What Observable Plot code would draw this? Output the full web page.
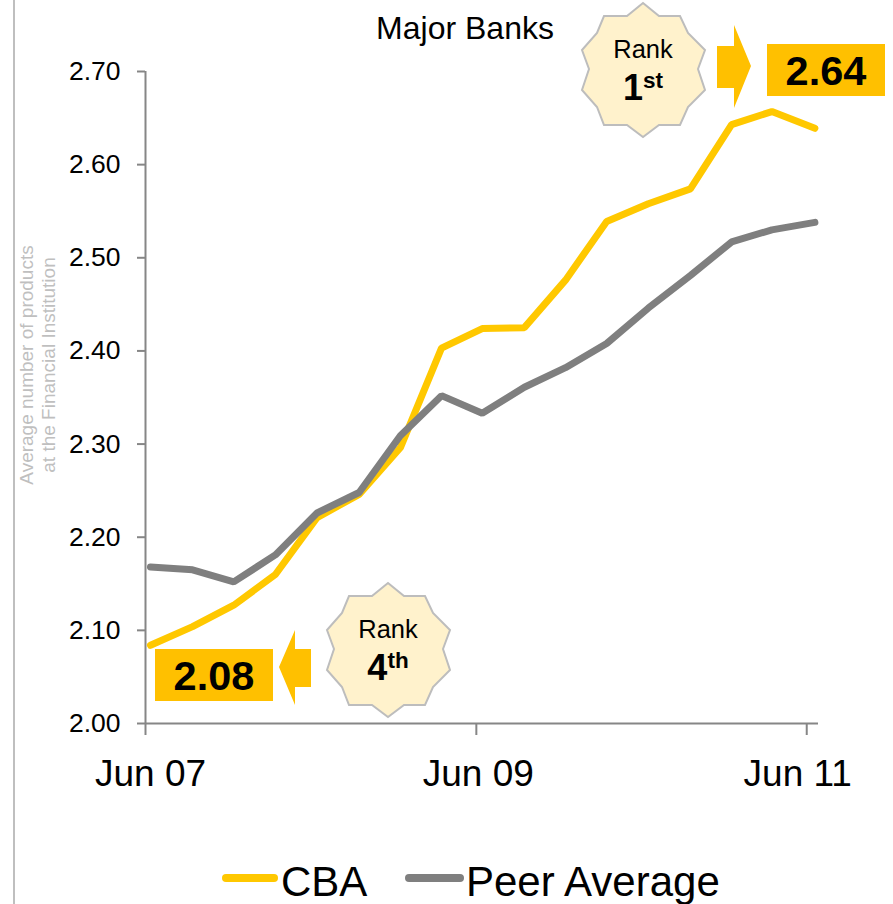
<!DOCTYPE html>
<html>
<head>
<meta charset="utf-8">
<script src="https://cdn.jsdelivr.net/npm/d3@7"></script>
<script src="https://cdn.jsdelivr.net/npm/@observablehq/plot@0.6"></script>
<style>
  html, body { margin: 0; padding: 0; background: #fff; }
  body { width: 893px; height: 904px; position: relative; overflow: hidden; font-family: "Liberation Sans", Arial, sans-serif; }
  #rule { position: absolute; left: 13px; top: 0; width: 2px; height: 904px; background: #bfbfbf; }
  #title { position: absolute; left: 265px; width: 400px; top: 9px; text-align: center; font-size: 32px; color: #000; line-height: 38px; }
  #chart { position: absolute; left: 0; top: 0; }
  #chart svg { overflow: visible; display: block; }
  #legend { position: absolute; left: 0; top: 850px; width: 893px; height: 54px; }
  .sw { position: absolute; height: 8px; border-radius: 4px; top: 24px; }
  .lb { position: absolute; top: 8px; font-size: 42px; line-height: 48px; color: #000; white-space: nowrap; }
</style>
</head>
<body>
<div id="rule"></div>
<div id="chart"></div>
<div id="title">Major Banks</div>
<div id="legend">
  <div class="sw" style="left:222px;width:56px;background:#FFC800"></div>
  <div class="lb" style="left:281px">CBA</div>
  <div class="sw" style="left:405px;width:59px;background:#7F7F7F"></div>
  <div class="lb" style="left:466px">Peer Average</div>
</div>
<script>
const dates = ["2007-06-12","2007-09-13","2007-12-13","2008-03-14","2008-06-14","2008-09-15","2008-12-15","2009-03-16","2009-06-14","2009-09-15","2009-12-15","2010-03-16","2010-06-16","2010-09-17","2010-12-17","2011-03-16","2011-06-19"];
const cba  = [2.084,2.104,2.127,2.160,2.221,2.246,2.296,2.403,2.424,2.425,2.476,2.539,2.558,2.574,2.643,2.657,2.639];
const peer = [2.168,2.165,2.152,2.181,2.226,2.248,2.309,2.352,2.333,2.361,2.382,2.408,2.446,2.481,2.517,2.530,2.538];
const yTicks = [2.0,2.1,2.2,2.3,2.4,2.5,2.6,2.7];
const xTicks = ["2007-06-01","2009-06-01","2011-06-01"];
const xLabels = ["Jun 07","Jun 09","Jun 11"];
const xLabelShift = [5,2,-9];

const GOLD = "#FFC000", LINEGOLD = "#FFC800", GREY = "#7F7F7F", AXIS = "#868686";
const parse = d => new Date(d + "T00:00:00Z");
const rows = name => (d, i) => ({date: parse(d), value: name === "CBA" ? cba[i] : peer[i]});

// decorative callouts
const starShape = [[0,-67],[16,-54],[37,-54],[45,-37],[62,-20],[55,-1],[62,20],[45,37],[37,55],[16,55],[0,67],[-16,55],[-39,55],[-46,37],[-61,20],[-54,-1],[-61,-20],[-46,-37],[-39,-54],[-16,-54]];
function star(g, cx, cy, big, sup) {
  g.append("polygon").attr("points", starShape.map(p => [cx+p[0], cy+p[1]].join(",")).join(" "))
    .attr("fill","#FFF2CC").attr("stroke","#BDBDBD").attr("stroke-width",2);
  g.append("text").attr("x",cx).attr("y",cy-12).attr("text-anchor","middle").attr("font-size",25.5).attr("fill","#000").text("Rank");
  const t = g.append("text").attr("x",cx).attr("y",cy+30).attr("text-anchor","middle").attr("font-weight","bold").attr("fill","#000");
  t.append("tspan").attr("font-size",36).text(big);
  t.append("tspan").attr("font-size",22.5).attr("dy",-12).text(sup);
}
function box(g, x, y, label) {
  g.append("rect").attr("x",x).attr("y",y).attr("width",118).attr("height",52).attr("fill",GOLD);
  g.append("text").attr("x",x+59).attr("y",y+41).attr("text-anchor","middle").attr("font-size",41.5).attr("font-weight","bold").attr("fill","#000").text(label);
}
function callouts() {
  const g = d3.create("svg:g").attr("font-family","'Liberation Sans', Arial, sans-serif");
  star(g, 643, 70, "1", "st");
  star(g, 388, 650, "4", "th");
  box(g, 767, 44, "2.64");
  box(g, 155, 649, "2.08");
  g.append("polygon").attr("fill",GOLD).attr("points","717,46 734,46 734,25 751,66 734,108 734,88 717,88");
  g.append("polygon").attr("fill",GOLD).attr("points","311,649 295,649 295,630 279,667 295,705 295,687 311,687");
  const yl = g.append("text").attr("transform","translate(0,365) rotate(-90)").attr("text-anchor","middle").attr("fill","#BFBFBF").attr("font-size",19);
  yl.append("tspan").attr("x",0).attr("y",33).text("Average number of products");
  yl.append("tspan").attr("x",0).attr("y",55).text("at the Financial Institution");
  return g.node();
}

const chart = Plot.plot({
  width: 893, height: 850,
  marginLeft: 145, marginRight: 75, marginTop: 71, marginBottom: 127,
  style: {fontFamily: "'Liberation Sans', Arial, sans-serif", background: "transparent", overflow: "visible"},
  x: {type: "utc", domain: [parse("2007-06-01"), parse("2011-06-27")]},
  y: {domain: [2, 2.7]},
  marks: [
    Plot.ruleY([2], {stroke: AXIS, strokeWidth: 2}),
    Plot.ruleX([parse(xTicks[0])], {y1: 2, y2: 2.7, stroke: AXIS, strokeWidth: 2}),
    Plot.axisY({ticks: yTicks, tickFormat: d3.format(".2f"), tickSize: 8, tickPadding: 17, stroke: AXIS, fill: "#000", strokeWidth: 2, fontSize: 26.5, label: null}),
    Plot.axisX({ticks: xTicks.map(parse), tickSize: 12, stroke: AXIS, strokeWidth: 2, tickFormat: () => "", label: null}),
    ...xLabels.map((label, i) => Plot.text([label], {x: [parse(xTicks[i])], y: [2], dy: 51, dx: xLabelShift[i], fontSize: 37, fill: "#000", text: [label]})),
    Plot.line(dates.map(rows("CBA")), {x: "date", y: "value", stroke: LINEGOLD, strokeWidth: 7, strokeLinecap: "round", strokeLinejoin: "miter", curve: "linear"}),
    Plot.line(dates.map(rows("Peer")), {x: "date", y: "value", stroke: GREY, strokeWidth: 7, strokeLinecap: "round", strokeLinejoin: "miter", curve: "linear"}),
    callouts
  ]
});
document.getElementById("chart").append(chart);
</script>
</body>
</html>
